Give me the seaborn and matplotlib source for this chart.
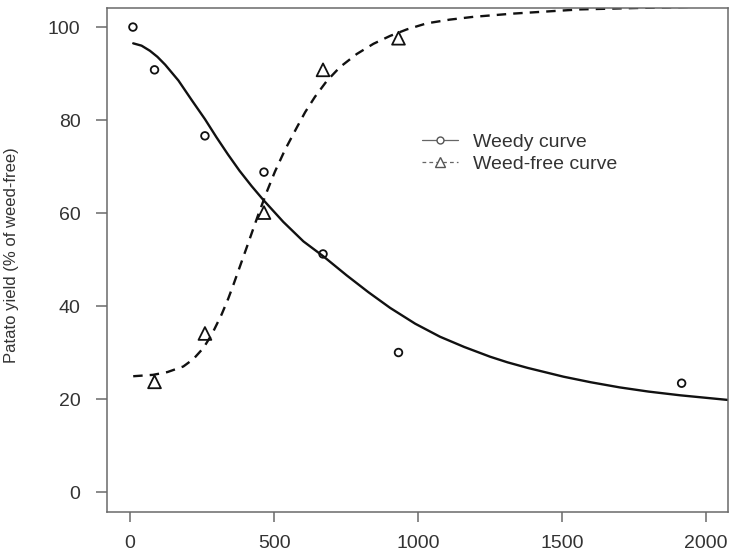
import matplotlib
matplotlib.use("Agg")
import matplotlib.pyplot as plt
from matplotlib.lines import Line2D
import seaborn as sns

# Observed points
weedy_x = [10, 85, 260, 465, 670, 932, 1915]
weedy_y = [100, 90.8, 76.6, 68.8, 51.2, 30.0, 23.4]
free_x = [85, 260, 465, 670, 932]
free_y = [23.7, 34.1, 60.1, 90.8, 97.6]

# Fitted curves
weedy_curve_x = [11, 40, 69, 95, 122, 168, 214, 260, 300, 340, 380, 422, 463, 532,
                 602, 671, 752, 827, 903, 990, 1076, 1160, 1250, 1310, 1380, 1505,
                 1600, 1700, 1800, 1910, 2076]
weedy_curve_y = [96.5, 96.0, 94.9, 93.6, 91.9, 88.5, 84.3, 80.2, 76.3, 72.6, 69.1,
                 65.8, 62.8, 58.1, 53.9, 50.7, 46.6, 43.0, 39.6, 36.2, 33.4, 31.2,
                 29.1, 27.9, 26.7, 24.8, 23.6, 22.5, 21.6, 20.8, 19.8]
free_curve_x = [11, 80, 130, 185, 220, 255, 284, 318, 341, 359, 382, 405, 422,
                446, 475, 503, 538, 579, 608, 642, 683, 729, 787, 845, 903, 961,
                1030, 1110, 1192, 1331, 1563, 1760, 2076]
free_curve_y = [24.9, 25.2, 25.8, 27.0, 28.6, 31.0, 33.9, 38.2, 41.6, 44.6, 48.6,
                52.6, 55.6, 59.8, 64.6, 68.9, 73.6, 78.4, 81.7, 85.0, 88.4, 91.4,
                94.2, 96.4, 98.1, 99.5, 100.8, 101.6, 102.2, 102.9, 103.8, 104.1,
                104.5]

x_ticks = [0, 500, 1000, 1500, 2000]
y_ticks = [0, 20, 40, 60, 80, 100]
legend_labels = ["Weedy curve", "Weed-free curve"]
y_label = "Patato yield (% of weed-free)"

sns.set_theme(style="white")
plt.rcParams["font.family"] = ["Liberation Sans", "DejaVu Sans"]

TXT = "#333333"
AX = "#6a6a6a"

fig = plt.figure(figsize=(7.3, 5.57), dpi=100)
ax = fig.add_axes([107 / 730, 1 - 512 / 557, (728 - 107) / 730, (512 - 8) / 557])

sns.lineplot(x=weedy_curve_x, y=weedy_curve_y, ax=ax, color="#111111", lw=1.7,
             sort=False, estimator=None)
sns.lineplot(x=free_curve_x, y=free_curve_y, ax=ax, color="#111111", lw=1.7,
             sort=False, estimator=None, linestyle=(0, (4.0, 3.0)))
sns.scatterplot(x=weedy_x, y=weedy_y, ax=ax, marker="o", s=30,
                facecolors="none", edgecolor="#111111", linewidth=1.3)
sns.scatterplot(x=free_x, y=free_y, ax=ax, marker="^", s=85,
                facecolors="none", edgecolor="#111111", linewidth=1.3)

ax.set_xlim(-80, 2076)
ax.set_ylim(-4.3, 104.1)
ax.set_xticks(x_ticks)
ax.set_yticks(y_ticks)
ax.set_xticklabels([str(t) for t in x_ticks])
ax.set_yticklabels([str(t) for t in y_ticks])
ax.tick_params(axis="both", which="both", direction="out", colors=AX,
               labelcolor=TXT, labelsize=14, width=1.1)
ax.tick_params(axis="x", length=7, pad=9.5, bottom=True)
ax.tick_params(axis="y", length=8, pad=11, left=True)
for sp in ax.spines.values():
    sp.set_visible(True)
    sp.set_color(AX)
    sp.set_linewidth(1.1)
ax.grid(False)

ax.set_ylabel(y_label, fontsize=12, color=TXT)
ax.yaxis.set_label_coords(-0.142, 0.51)

handles = [
    Line2D([], [], color="#666666", lw=0.9, marker="o", ms=5, mfc="white",
           mec="#555555", mew=1.0),
    Line2D([], [], color="#666666", lw=0.9, linestyle=(0, (3, 2.5)), marker="^",
           ms=7, mfc="white", mec="#555555", mew=1.0),
]
leg = ax.legend(handles, legend_labels, loc="upper left",
                bbox_to_anchor=(422 / 730, 1 - 133.5 / 557),
                bbox_transform=fig.transFigure, frameon=False, fontsize=14,
                handlelength=1.85, handletextpad=0.75, labelspacing=0.22,
                borderpad=0, borderaxespad=0)
for t in leg.get_texts():
    t.set_color(TXT)

fig.savefig("out.png", dpi=100)
